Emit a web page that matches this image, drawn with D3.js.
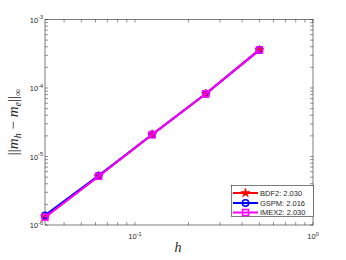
<!DOCTYPE html>
<html><head><meta charset="utf-8">
<script src="https://cdn.jsdelivr.net/npm/d3@7"></script>
<style>body{margin:0;background:#fff}svg{display:block}</style>
</head><body>
<svg id="c" width="346" height="260"></svg>
<script>
const hValues = [1/32, 1/16, 1/8, 1/4, 1/2];
const bdf2 = [1.30e-6, 5.15e-6, 2.09e-5, 8.25e-5, 3.60e-4];
const gspm = [1.38e-6, 5.25e-6, 2.10e-5, 8.25e-5, 3.60e-4];
const imex2 = [1.30e-6, 5.15e-6, 2.09e-5, 8.25e-5, 3.60e-4];
const seriesNames = ["BDF2: 2.030", "GSPM: 2.016", "IMEX2: 2.030"];
const xTickExps = [-1, 0];
const yTickExps = [-6, -5, -4, -3];

const svg = d3.select("#c");
const L = 45, R = 313, T = 19.5, B = 225;
const x = d3.scaleLog().domain([1/32, 1]).range([L, R]);
const y = d3.scaleLog().domain([1e-6, 1e-3]).range([B, T]);
const axCol = "#262626";
const tl = 3;

const g = svg.append("g");
function xt(v, len){
  g.append("line").attr("x1", x(v)).attr("x2", x(v)).attr("y1", B).attr("y2", B-len).attr("stroke", axCol).attr("stroke-width", 0.5);
  g.append("line").attr("x1", x(v)).attr("x2", x(v)).attr("y1", T).attr("y2", T+len).attr("stroke", axCol).attr("stroke-width", 0.5);
}
function yt(v, len){
  g.append("line").attr("y1", y(v)).attr("y2", y(v)).attr("x1", L).attr("x2", L+len).attr("stroke", axCol).attr("stroke-width", 0.5);
  g.append("line").attr("y1", y(v)).attr("y2", y(v)).attr("x1", R).attr("x2", R-len).attr("stroke", axCol).attr("stroke-width", 0.5);
}
x.ticks().forEach(v => { if (v >= 1/32 && v <= 1) xt(v, tl); });
y.ticks().forEach(v => yt(v, tl));

svg.append("rect").attr("x", L).attr("y", T).attr("width", R-L).attr("height", B-T)
  .attr("fill", "none").attr("stroke", axCol).attr("stroke-width", 0.6);

function pow(sel, e){
  sel.append("tspan").text("10");
  sel.append("tspan").attr("dy", -3.5).attr("font-size", 5.5).text(e);
}
xTickExps.forEach(e => {
  const t = svg.append("text").attr("x", x(Math.pow(10, e))).attr("y", 239)
    .attr("text-anchor", "middle").attr("font-family", "Liberation Sans, Arial, sans-serif")
    .attr("font-size", 7.5).attr("fill", axCol);
  pow(t, e);
});
yTickExps.forEach(e => {
  const t = svg.append("text").attr("x", L - 2).attr("y", y(Math.pow(10, e)) + 3)
    .attr("text-anchor", "end").attr("font-family", "Liberation Sans, Arial, sans-serif")
    .attr("font-size", 7.5).attr("fill", axCol);
  pow(t, e);
});

svg.append("text").attr("x", 178).attr("y", 252).attr("text-anchor", "middle")
  .attr("font-family", "Liberation Serif, serif").attr("font-style", "italic")
  .attr("font-size", 14).attr("fill", axCol).text("h");

const yl = svg.append("text").attr("transform", "translate(18,122) rotate(-90)")
  .attr("text-anchor", "middle").attr("font-family", "Liberation Serif, serif")
  .attr("font-size", 15).attr("fill", axCol);
yl.append("tspan").text("||");
yl.append("tspan").attr("font-style", "italic").text("m");
yl.append("tspan").attr("font-style", "italic").attr("font-size", 10).attr("dy", 3).text("h");
yl.append("tspan").attr("dy", -3).text(" − ");
yl.append("tspan").attr("font-style", "italic").text("m");
yl.append("tspan").attr("font-style", "italic").attr("font-size", 10).attr("dy", 3).text("e");
yl.append("tspan").attr("dy", -3).text("||");
yl.append("tspan").attr("font-size", 10).attr("dy", 3).text("∞");

const series = [
  {name: seriesNames[0], vals: bdf2, color: "#ff0000", marker: "star"},
  {name: seriesNames[1], vals: gspm, color: "#0000ff", marker: "circle"},
  {name: seriesNames[2], vals: imex2, color: "#ff00ff", marker: "square"}
];
const line = d3.line().x(d => x(d[0])).y(d => y(d[1]));
function drawMarker(sel, type, cx, cy, color){
  if (type === "star") {
    sel.append("path").attr("d", d3.symbol(d3.symbolStar, 26)()).attr("transform", `translate(${cx},${cy})`)
      .attr("fill", color).attr("stroke", color).attr("stroke-width", 0.6);
  } else if (type === "circle") {
    sel.append("circle").attr("cx", cx).attr("cy", cy).attr("r", 3.2)
      .attr("fill", "none").attr("stroke", color).attr("stroke-width", 1.5);
  } else {
    sel.append("rect").attr("x", cx-3).attr("y", cy-3).attr("width", 6).attr("height", 6)
      .attr("fill", "none").attr("stroke", color).attr("stroke-width", 1.5);
  }
}
series.forEach(s => {
  const pts = hValues.map((h, i) => [h, s.vals[i]]);
  const gs = svg.append("g");
  gs.append("path").attr("d", line(pts)).attr("fill", "none").attr("stroke", s.color).attr("stroke-width", 2);
  pts.forEach(p => drawMarker(gs, s.marker, x(p[0]), y(p[1]), s.color));
});

const lg = svg.append("g");
lg.append("rect").attr("x", 231.5).attr("y", 185.5).attr("width", 82).attr("height", 31)
  .attr("fill", "#fff").attr("stroke", axCol).attr("stroke-width", 0.6);
const rowsY = [193, 203, 212.5];
series.forEach((s, i) => {
  const yy = rowsY[i];
  lg.append("line").attr("x1", 233).attr("x2", 258).attr("y1", yy).attr("y2", yy).attr("stroke", s.color).attr("stroke-width", 2);
  drawMarker(lg, s.marker, 245.5, yy, s.color);
  lg.append("text").attr("x", 260).attr("y", yy + 2.7).attr("font-family", "Liberation Sans, Arial, sans-serif")
    .attr("font-size", 7.5).attr("fill", axCol).text(s.name);
});
</script>
</body></html>
